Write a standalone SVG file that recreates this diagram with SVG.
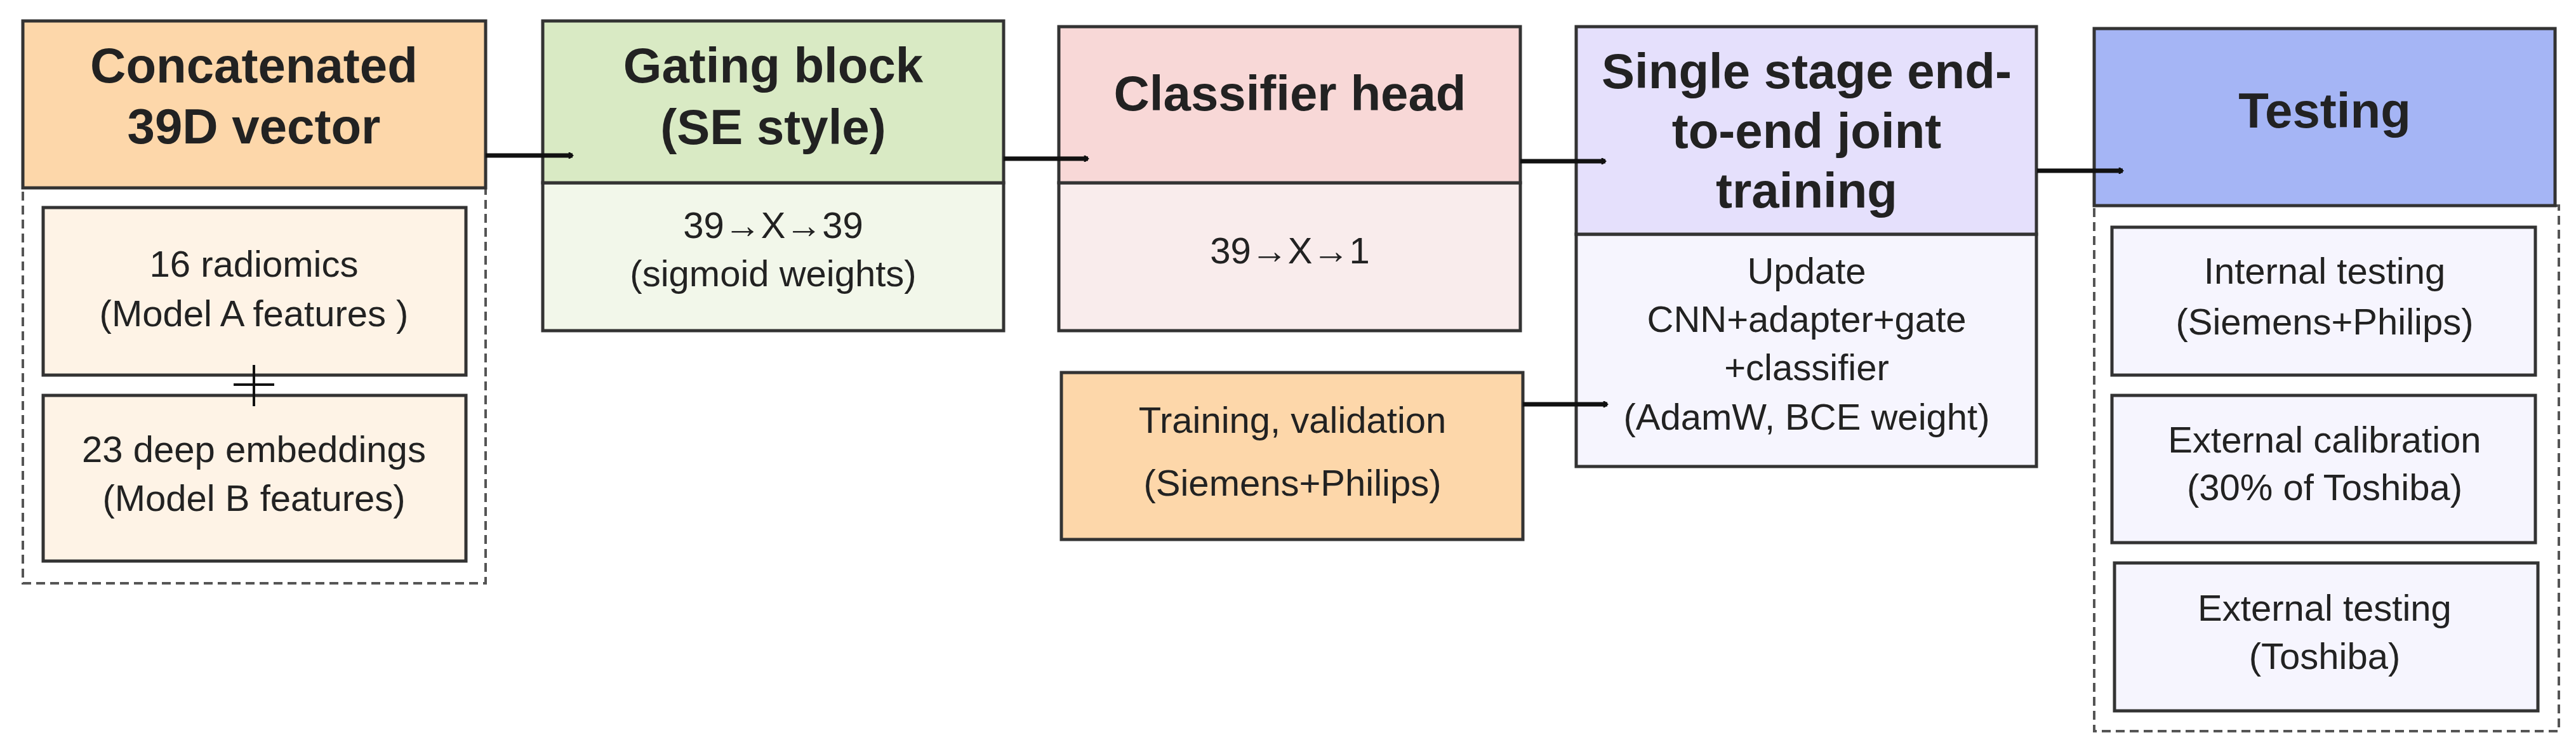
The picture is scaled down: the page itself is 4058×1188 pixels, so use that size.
<svg xmlns="http://www.w3.org/2000/svg" width="4058" height="1188" viewBox="0 0 4058 1188">
<style>
.b{stroke:#333;stroke-width:5}
.d{fill:none;stroke:#555;stroke-width:4;stroke-dasharray:14 8}
.h{font-family:"Liberation Sans",Arial,sans-serif;font-weight:bold;font-size:78px;fill:#222;text-anchor:middle}
.t{font-family:"Liberation Sans",Arial,sans-serif;font-size:58px;fill:#222;text-anchor:middle}
.c{fill:none;stroke:#111;stroke-width:7}
</style>
<defs><marker id="a" markerWidth="10" markerHeight="10" refX="8" refY="5" orient="auto" markerUnits="userSpaceOnUse" viewBox="0 0 10 10"><path d="M2,0 L8,5 L2,10" fill="none" stroke="#111" stroke-width="2.5"/></marker></defs>
<rect width="4058" height="1188" fill="#fff"/>
<g id="concat">
<rect class="d" x="36" y="296" width="729" height="623"/>
<rect class="b" x="36" y="33" width="729" height="263" fill="#FDD7AA"/>
<text class="h" x="400" y="130">Concatenated</text><text class="h" x="400" y="226">39D vector</text>
<rect class="b" x="68" y="327" width="666" height="264" fill="#FEF3E6" stroke="#666"/>
<text class="t" x="400" y="436">16 radiomics</text><text class="t" x="400" y="514">(Model A features )</text>
<rect class="b" x="68" y="623" width="666" height="261" fill="#FEF3E6"/>
<text class="t" x="400" y="728">23 deep embeddings</text><text class="t" x="400" y="805">(Model B features)</text>
<path d="M400,575 V640 M368,606 H432" stroke="#111" stroke-width="4"/>
</g>
<g id="gating">
<rect class="b" x="855" y="288" width="726" height="233" fill="#F2F7EA"/>
<rect class="b" x="855" y="33" width="726" height="255" fill="#D9EAC4"/>
<text class="h" x="1218" y="130">Gating block</text><text class="h" x="1218" y="227" font-weight="normal">(SE style)</text>
<text class="t" x="1218" y="375">39→X→39</text><text class="t" x="1218" y="451">(sigmoid weights)</text>
</g>
<g id="classifier">
<rect class="b" x="1668" y="288" width="727" height="233" fill="#F9ECEC"/>
<rect class="b" x="1668" y="42" width="727" height="246" fill="#F8D8D7"/>
<text class="h" x="2032" y="174">Classifier head</text>
<text class="t" x="2032" y="415">39→X→1</text>
</g>
<g id="training">
<rect class="b" x="1672" y="587" width="727" height="263" fill="#FDD7AA"/>
<text class="t" x="2036" y="682" font-size="66">Training, validation</text><text class="t" x="2036" y="781" font-size="66">(Siemens+Philips)</text>
</g>
<g id="joint">
<rect class="b" x="2483" y="369" width="725" height="366" fill="#F6F5FE"/>
<rect class="b" x="2483" y="42" width="725" height="327" fill="#E5E0FC"/>
<text class="h" x="2846" y="139">Single stage end-</text><text class="h" x="2846" y="233">to-end joint</text><text class="h" x="2846" y="327">training</text>
<text class="t" x="2846" y="447">Update</text><text class="t" x="2846" y="523">CNN+adapter+gate</text><text class="t" x="2846" y="599">+classifier</text><text class="t" x="2846" y="677">(AdamW, BCE weight)</text>
</g>
<g id="testing">
<rect class="d" x="3299" y="324" width="732" height="828"/>
<rect class="b" x="3299" y="45" width="726" height="279" fill="#A5B5F5"/>
<text class="h" x="3662" y="201">Testing</text>
<rect class="b" x="3327" y="358" width="667" height="233" fill="#F6F5FE"/>
<text class="t" x="3662" y="447">Internal testing</text><text class="t" x="3662" y="527">(Siemens+Philips)</text>
<rect class="b" x="3327" y="623" width="667" height="232" fill="#F6F5FE"/>
<text class="t" x="3662" y="713">External calibration</text><text class="t" x="3662" y="788">(30% of Toshiba)</text>
<rect class="b" x="3331" y="887" width="667" height="233" fill="#F6F5FE"/>
<text class="t" x="3662" y="978">External testing</text><text class="t" x="3662" y="1054">(Toshiba)</text>
</g>
<g id="connectors">
<path class="c" d="M765,245 H902" marker-end="url(#a)"/>
<path class="c" d="M1581,250 H1714" marker-end="url(#a)"/>
<path class="c" d="M2395,254 H2529" marker-end="url(#a)"/>
<path class="c" d="M2399,637 H2532" marker-end="url(#a)"/>
<path class="c" d="M3209,269 H3344" marker-end="url(#a)"/>
</g>
</svg>
